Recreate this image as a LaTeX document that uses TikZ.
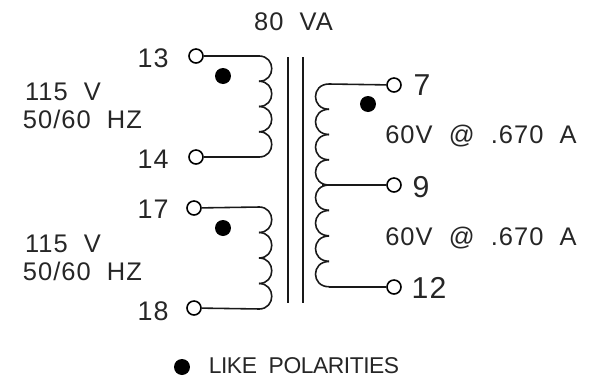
\documentclass[tikz,border=0pt]{standalone}
\usepackage{fontspec}
\setmainfont[LetterSpace=4,WordSpace=2]{Liberation Sans}
\newfontfamily\tightfont[LetterSpace=-2,WordSpace=2]{Liberation Sans}
\begin{document}
\begin{tikzpicture}
    [
      x=0.02cm,
      y=-0.02cm,
      wire/.style={line width=0.9pt, black!90},
      core/.style={line width=0.9pt, black!90},
      terminal/.style={circle, draw, line width=0.9pt, fill=white, inner sep=0pt, minimum size=0.28cm},
      dot/.style={circle, fill=black, inner sep=0pt, minimum size=0.32cm},
      lbl/.style={anchor=base, inner sep=0pt, font=\fontsize{14.5}{16}\selectfont, black!85},
      pin/.style={anchor=base, inner sep=0pt, font=\fontsize{15.3}{17}\selectfont, black!85},
      biglbl/.style={anchor=base, inner sep=0pt, font=\fontsize{17.2}{19}\selectfont, black!85},
      legend/.style={anchor=base, inner sep=0pt, font=\tightfont\fontsize{13}{15}\selectfont, black!85},
    ]

    \useasboundingbox (0,0) rectangle (596,376);

    \node [lbl] (rating) at (293.5,30) {80 VA};

    % primary windings
    \node [terminal] (t13) at (196,56) {};
    \node [terminal] (t14) at (196,157) {};
    \node [terminal] (t17) at (194,208) {};
    \node [terminal] (t18) at (194,308) {};

    \draw [wire] (t13) -- (260,56);
    \foreach \y in {56,81.25,106.5,131.75}
      \draw [wire] (259,\y) .. controls (276,\y) and (276,\y+25.25) .. (259,\y+25.25);
    \draw [wire] (260,157) -- (t14);

    \draw [wire] (t17) -- (260,207);
    \foreach \y in {207,232.5,258,283.5}
      \draw [wire] (259,\y) .. controls (276,\y) and (276,\y+25.5) .. (259,\y+25.5);
    \draw [wire] (260,309) -- (t18);

    % core
    \coordinate (c1a) at (288,57);
    \coordinate (c1b) at (288,303);
    \coordinate (c2a) at (303,57);
    \coordinate (c2b) at (303,303);
    \draw [core] (c1a) -- (c1b);
    \draw [core] (c2a) -- (c2b);

    % secondary winding
    \node [terminal] (t7) at (394,85) {};
    \node [terminal] (t9) at (394,185) {};
    \node [terminal] (t12) at (394,287) {};

    \draw [wire] (t7) -- (329,84);
    \foreach \y in {84,109.25,134.5,159.75,185,210.5,236,261.5}
      \draw [wire] (329,\y) .. controls (311,\y) and (311,\y+25.25) .. (329,\y+25.25);
    \draw [wire] (t9) -- (322,185);
    \draw [wire] (329,287) -- (t12);

    % dots
    \node [dot] (d1) at (223,76) {};
    \node [dot] (d2) at (223,228) {};
    \node [dot] (d3) at (368,104) {};
    \node [dot] (d4) at (182,367) {};

    % labels
    \node [pin] (n13) at (153,67) {13};
    \node [pin] (n14) at (153,168) {14};
    \node [pin] (n17) at (153,218) {17};
    \node [pin] (n18) at (153,320) {18};
    \node [biglbl] (n7) at (422,95) {7};
    \node [biglbl] (n9) at (421,197) {9};
    \node [biglbl] (n12) at (429,298) {12};

    \node [lbl] (v1) at (63,100) {115 V};
    \node [lbl] (hz1) at (82.5,128) {50/60 HZ};
    \node [lbl] (v2) at (63,252) {115 V};
    \node [lbl] (hz2) at (82.5,280) {50/60 HZ};

    \node [lbl] (s1) at (481,143) {60V @ .670 A};
    \node [lbl] (s2) at (481,245) {60V @ .670 A};

    \node [legend] (like) at (304,373) {LIKE POLARITIES};
\end{tikzpicture}
\end{document}
